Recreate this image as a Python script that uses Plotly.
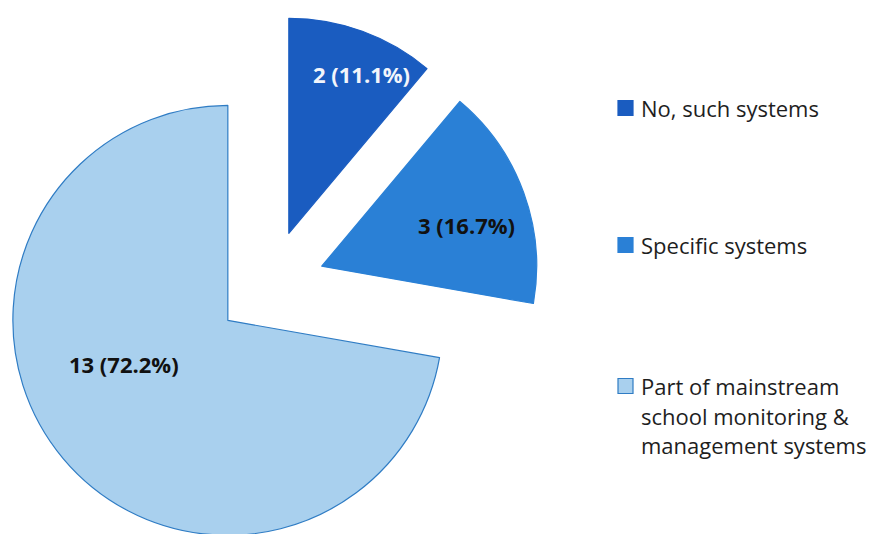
import plotly.graph_objects as go

# Survey answers: how special-needs data is collected
categories = ["No, such systems", "Specific systems",
              "Part of mainstream school monitoring & management systems"]
counts = [2, 3, 13]
legend_lines = [["No, such systems"], ["Specific systems"],
                ["Part of mainstream", "school monitoring &", "management systems"]]

fills = ["#1a5cc0", "#2a80d6", "#a9d0ee"]
edges = ["#1a5cc0", "#2a80d6", "#2f7cc4"]
text_colors = ["#f2f5fb", "#111111", "#111111"]

W, H = 870, 556
FONT = "Open Sans"
total = sum(counts)

fig = go.Figure(go.Pie(
    labels=categories,
    values=counts,
    sort=False,
    direction="clockwise",
    rotation=0,
    pull=[0.256] * len(counts),
    marker=dict(colors=fills, line=dict(color=edges, width=1.2)),
    textinfo="none",
    hoverinfo="label+value+percent",
    showlegend=False,
    domain=dict(x=[0, 540 / W], y=[1 - 555 / H, 1 - 15 / H]),
))

shapes, annots = [], []

# Slice labels: "count (share%)", set inside each slice
label_px = [(361, 74), (466, 225), (124, 364)]
for (px, py), c, col in zip(label_px, counts, text_colors):
    annots.append(dict(text=f"{c} ({c / total * 100:.1f}%)",
                       xref="paper", yref="paper",
                       x=px / W, y=1 - py / H,
                       xanchor="center", yanchor="middle", showarrow=False,
                       font=dict(family=FONT, size=22, color=col, weight="bold")))

# Legend: coloured key squares with wrapped labels on the right
key_rows = [108, 245, 386]
for i, (row, lines) in enumerate(zip(key_rows, legend_lines)):
    shapes.append(dict(type="rect", xref="paper", yref="paper",
                       x0=618 / W, x1=633 / W,
                       y0=1 - (row + 7.5) / H, y1=1 - (row - 7.5) / H,
                       fillcolor=fills[i], line=dict(color=edges[i], width=1.2)))
    for j, line in enumerate(lines):
        annots.append(dict(text=line, xref="paper", yref="paper",
                           x=639 / W, y=1 - (row + j * 29.5) / H,
                           xanchor="left", yanchor="middle", showarrow=False,
                           font=dict(family=FONT, size=22, color="#1e1e1e")))

fig.update_layout(
    width=W, height=H,
    margin=dict(l=0, r=0, t=0, b=0),
    paper_bgcolor="white", plot_bgcolor="white",
    shapes=shapes, annotations=annots,
)

fig.write_html("out.html",
               post_script="document.documentElement.style.overflow='hidden';"
                           "document.body.style.overflow='hidden';")
